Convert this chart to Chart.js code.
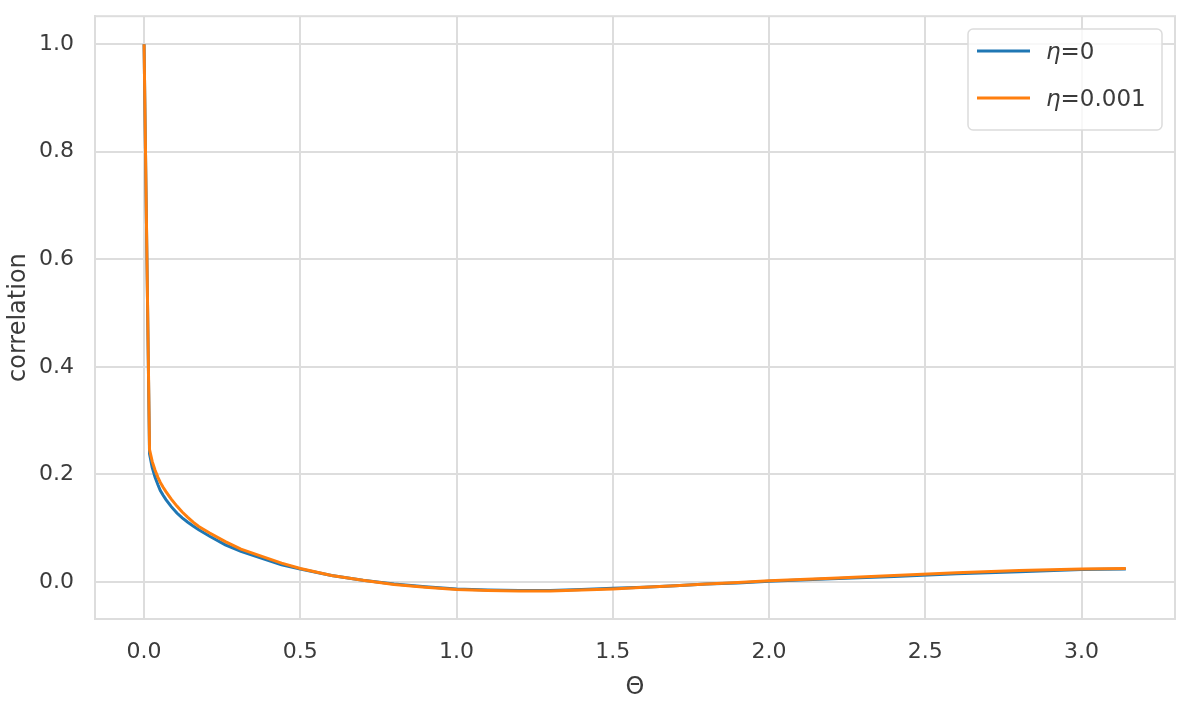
<!DOCTYPE html>
<html>
<head>
<meta charset="utf-8">
<script src="https://cdn.jsdelivr.net/npm/chart.js"></script>
<style>
  html, body { margin: 0; padding: 0; background: #fff; }
  #wrap { width: 1196px; height: 718px; }
</style>
</head>
<body>
<div id="wrap"><canvas id="myChart" width="1196" height="718"></canvas></div>
<script>
// theta values (radians)
const theta = [0, 0.0175, 0.026, 0.035, 0.044, 0.052, 0.061, 0.07, 0.087, 0.105, 0.122, 0.14, 0.157, 0.175, 0.21, 0.26, 0.31,
  0.37, 0.44, 0.5, 0.6, 0.7, 0.8, 0.9, 1.0, 1.1, 1.2, 1.3, 1.4, 1.5, 1.6, 1.7, 1.8, 1.9, 2.0, 2.2, 2.4, 2.6, 2.8, 3.0, 3.1416];

// eta = 0
const corrEta0 = [1.0, 0.238, 0.213, 0.195, 0.181, 0.170, 0.161, 0.153, 0.140, 0.128, 0.119, 0.111, 0.104, 0.097, 0.085,
  0.069, 0.057, 0.045, 0.032, 0.024, 0.012, 0.003, -0.004, -0.009, -0.013, -0.015, -0.016, -0.016, -0.014, -0.012,
  -0.010, -0.007, -0.004, -0.002, 0.001, 0.006, 0.010, 0.015, 0.019, 0.023, 0.024];

// eta = 0.001
const corrEta001 = [1.0, 0.246, 0.224, 0.208, 0.195, 0.185, 0.176, 0.168, 0.154, 0.141, 0.130, 0.120, 0.111, 0.103, 0.091,
  0.075, 0.061, 0.049, 0.035, 0.025, 0.012, 0.003, -0.005, -0.010, -0.014, -0.016, -0.017, -0.017, -0.015, -0.013,
  -0.010, -0.007, -0.004, -0.001, 0.002, 0.007, 0.012, 0.017, 0.021, 0.024, 0.025];

const xTicks = [0, 0.5, 1.0, 1.5, 2.0, 2.5, 3.0];
const yTicks = [0, 0.2, 0.4, 0.6, 0.8, 1.0];

const legendItems = [
  { sym: 'η', rest: '=0', color: '#1f77b4' },
  { sym: 'η', rest: '=0.001', color: '#ff7f0e' }
];

const gridCol = '#dddddd';
const textCol = '#3b3b3b';
const fontFam = '"DejaVu Sans", sans-serif';

function toPts(ys) {
  return theta.map((t, i) => ({ x: t, y: ys[i] }));
}

// frame on all 4 sides + legend box
const framePlugin = {
  id: 'frame',
  afterDraw(chart) {
    const ctx = chart.ctx;
    const a = chart.chartArea;
    ctx.save();
    ctx.strokeStyle = gridCol;
    ctx.lineWidth = 2;
    ctx.strokeRect(a.left, a.top, a.right - a.left, a.bottom - a.top);

    // legend
    const bx = 968, by = 29, bw = 194, bh = 101;
    ctx.beginPath();
    ctx.roundRect(bx, by, bw, bh, 5);
    ctx.fillStyle = 'rgba(255,255,255,0.8)';
    ctx.fill();
    ctx.strokeStyle = '#dcdcdc';
    ctx.lineWidth = 1.5;
    ctx.stroke();

    legendItems.forEach((it, i) => {
      const y = 51 + i * 47;
      ctx.beginPath();
      ctx.moveTo(977, y);
      ctx.lineTo(1030, y);
      ctx.strokeStyle = it.color;
      ctx.lineWidth = 3;
      ctx.stroke();
      ctx.fillStyle = textCol;
      ctx.textBaseline = 'middle';
      ctx.textAlign = 'left';
      ctx.font = 'italic 23px ' + fontFam;
      ctx.fillText(it.sym, 1046, y + 2);
      const w = ctx.measureText(it.sym).width;
      ctx.font = '23px ' + fontFam;
      ctx.fillText(it.rest, 1046 + w, y + 2);
    });
    ctx.restore();
  }
};

new Chart(document.getElementById('myChart'), {
  type: 'line',
  data: {
    datasets: [
      { label: 'η=0', data: toPts(corrEta0), borderColor: '#1f77b4', borderWidth: 3,
        pointRadius: 0, tension: 0, fill: false, order: 2 },
      { label: 'η=0.001', data: toPts(corrEta001), borderColor: '#ff7f0e', borderWidth: 3,
        pointRadius: 0, tension: 0, fill: false, order: 1 }
    ]
  },
  options: {
    responsive: false,
    animation: false,
    layout: { padding: { top: 15, right: 21, left: 0, bottom: 0 } },
    plugins: { legend: { display: false }, tooltip: { enabled: false } },
    scales: {
      x: {
        type: 'linear',
        min: -0.157,
        max: 3.299,
        afterBuildTicks: axis => { axis.ticks = xTicks.map(v => ({ value: v })); },
        afterFit: axis => { axis.height = 99; },
        grid: { color: gridCol, lineWidth: 2, drawTicks: false },
        border: { color: gridCol, width: 2 },
        ticks: {
          padding: 20, color: textCol, font: { family: fontFam, size: 22 },
          maxRotation: 0, callback: v => v.toFixed(1)
        },
        title: { display: true, text: 'Θ', color: textCol, font: { family: fontFam, size: 24 }, padding: { top: 0, bottom: 16 } }
      },
      y: {
        min: -0.069,
        max: 1.052,
        afterBuildTicks: axis => { axis.ticks = yTicks.map(v => ({ value: v })); },
        afterFit: axis => { axis.width = 95; },
        grid: { color: gridCol, lineWidth: 2, drawTicks: true, tickLength: 18, tickColor: 'rgba(0,0,0,0)' },
        border: { color: gridCol, width: 2 },
        ticks: {
          padding: 3, color: textCol, font: { family: fontFam, size: 22 },
          callback: v => v.toFixed(1)
        },
        title: { display: true, text: 'correlation', color: textCol, font: { family: fontFam, size: 24 }, padding: { top: 4, bottom: 0 } }
      }
    }
  },
  plugins: [framePlugin]
});
</script>
</body>
</html>
